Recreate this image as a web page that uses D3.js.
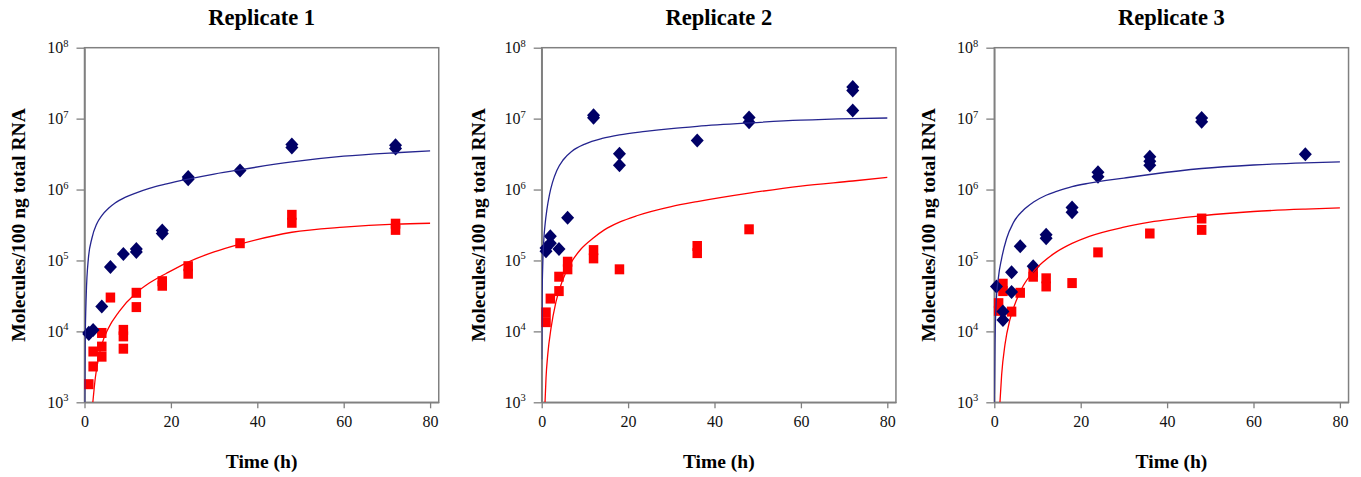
<!DOCTYPE html>
<html>
<head>
<meta charset="utf-8">
<script src="https://cdn.jsdelivr.net/npm/d3@7"></script>
<style>
  body { margin: 0; background: #fff; }
  svg { display: block; font-family: "Liberation Serif", "Times New Roman", serif; }
</style>
</head>
<body>
<svg></svg>
<script>
// ---- data (time in h, molecules / 100 ng total RNA) ----
var xTicks = [0, 20, 40, 60, 80];
var yExponents = [3, 4, 5, 6, 7, 8];

// Replicate 1
var rep1DiamondT = [1, 1, 2, 4, 6, 9, 12, 12, 18, 18, 24, 24, 36, 48, 48, 72, 72];
var rep1DiamondV = [9.2e3, 9.6e3, 1.05e4, 2.25e4, 8.1e4, 1.23e5, 1.32e5, 1.45e5, 2.4e5, 2.65e5, 1.4e6, 1.5e6, 1.86e6, 3.9e6, 4.3e6, 3.8e6, 4.2e6];
var rep1SquareT = [1, 2, 2, 4, 4, 4, 6, 9, 9, 9, 12, 12, 18, 18, 24, 24, 36, 48, 48, 72, 72];
var rep1SquareV = [1.8e3, 3.2e3, 5.2e3, 4.4e3, 6.1e3, 9.5e3, 3.0e4, 5.7e3, 8.5e3, 1.05e4, 2.2e4, 3.5e4, 4.4e4, 5.1e4, 6.5e4, 8.3e4, 1.75e5, 3.4e5, 4.4e5, 2.7e5, 3.3e5];
var rep1BlueFitT = [0.05, 0.15, 0.4, 0.9, 1.7, 2.85, 4, 5.5, 7, 9.5, 12, 15, 19, 24, 30, 36, 48, 60, 72, 80];
var rep1BlueFitV = [1e3, 6.3e3, 3.2e4, 1.07e5, 2.04e5, 3.3e5, 4.3e5, 5.4e5, 6.4e5, 7.8e5, 9.0e5, 1.04e6, 1.2e6, 1.4e6, 1.65e6, 1.9e6, 2.45e6, 2.95e6, 3.3e6, 3.5e6];
var rep1RedFitT = [1.93, 2.5, 3.25, 4, 5.5, 8, 12, 15, 19, 24, 30, 36, 48, 60, 72, 80];
var rep1RedFitV = [1e3, 2.2e3, 4.2e3, 6.5e3, 1.1e4, 1.9e4, 3.5e4, 4.8e4, 6.6e4, 9.5e4, 1.32e5, 1.7e5, 2.5e5, 2.95e5, 3.25e5, 3.35e5];

// Replicate 2
var rep2DiamondT = [1, 1, 2, 2, 4, 6, 12, 12, 18, 18, 36, 48, 48, 72, 72, 72];
var rep2DiamondV = [1.35e5, 1.5e5, 1.75e5, 2.2e5, 1.45e5, 4.0e5, 1.03e7, 1.12e7, 2.2e6, 3.2e6, 4.9e6, 8.9e6, 1.04e7, 1.3e7, 2.5e7, 2.8e7];
var rep2SquareT = [1, 1, 2, 4, 4, 6, 6, 12, 12, 18, 36, 36, 48];
var rep2SquareV = [1.35e4, 1.85e4, 2.9e4, 3.7e4, 5.9e4, 7.5e4, 9.6e4, 1.07e5, 1.4e5, 7.5e4, 1.27e5, 1.6e5, 2.75e5];
var rep2BlueFitT = [0, 0.1, 0.25, 0.5, 0.8, 1.2, 1.8, 2.5, 3.5, 5, 7, 10, 14, 18, 24, 30, 36, 48, 60, 72, 80];
var rep2BlueFitV = [4e3, 3.2e4, 8.9e4, 2.0e5, 3.3e5, 5.2e5, 8.5e5, 1.26e6, 1.86e6, 2.63e6, 3.47e6, 4.37e6, 5.25e6, 5.9e6, 6.6e6, 7.25e6, 7.8e6, 8.7e6, 9.5e6, 1.0e7, 1.02e7];
var rep2RedFitT = [0.77, 1, 1.4, 2.15, 3.3, 4.9, 6.8, 9.1, 11.8, 14.5, 18, 22, 30, 36, 48, 60, 72, 80];
var rep2RedFitV = [1e3, 2.2e3, 4.7e3, 1.1e4, 2.6e4, 5.4e4, 9.3e4, 1.45e5, 2.04e5, 2.7e5, 3.47e5, 4.27e5, 5.75e5, 6.76e5, 8.9e5, 1.12e6, 1.32e6, 1.48e6];

// Replicate 3
var rep3DiamondT = [0.5, 2, 2, 4, 4, 6, 9, 12, 12, 18, 18, 24, 24, 36, 36, 36, 48, 48, 72];
var rep3DiamondV = [4.3e4, 1.45e4, 1.9e4, 3.6e4, 6.8e4, 1.58e5, 8.3e4, 2.05e5, 2.3e5, 4.8e5, 5.6e5, 1.52e6, 1.75e6, 2.2e6, 2.5e6, 2.9e6, 9.0e6, 1.02e7, 3.15e6];
var rep3SquareT = [1, 1, 2, 2, 4, 6, 9, 9, 12, 12, 18, 24, 36, 48, 48];
var rep3SquareV = [1.95e4, 2.5e4, 3.7e4, 4.7e4, 1.9e4, 3.5e4, 5.9e4, 6.8e4, 4.3e4, 5.6e4, 4.8e4, 1.3e5, 2.4e5, 2.7e5, 3.9e5];
var rep3BlueFitT = [0, 0.15, 0.4, 0.93, 1.7, 2.85, 4.4, 6.7, 9, 12, 14.4, 18, 22, 30, 36, 48, 60, 72, 80];
var rep3BlueFitV = [1e3, 6.5e3, 2.3e4, 5.6e4, 1.07e5, 2.04e5, 3.4e5, 5.1e5, 6.6e5, 8.3e5, 9.4e5, 1.1e6, 1.23e6, 1.45e6, 1.63e6, 1.98e6, 2.22e6, 2.38e6, 2.46e6];
var rep3RedFitT = [1.31, 1.7, 2.47, 3.63, 5.17, 6.7, 9, 11.3, 14.4, 18, 22, 30, 36, 48, 60, 72, 80];
var rep3RedFitV = [1e3, 2.45e3, 6.5e3, 1.48e4, 2.8e4, 4.4e4, 6.9e4, 9.5e4, 1.32e5, 1.74e5, 2.19e5, 2.95e5, 3.47e5, 4.27e5, 4.9e5, 5.3e5, 5.5e5];

var width = 1361, height = 477;
var plotTop = 47.7, plotBottom = 402.3;
var pxPerHour = 4.32;
var diamondColor = "#000066", blueLine = "#25258f", red = "#ff0000", axisGrey = "#808080";

var panels = [
  {title: "Replicate 1", left: 84.5,  labelX: 25,
   dT: rep1DiamondT, dV: rep1DiamondV, sT: rep1SquareT, sV: rep1SquareV,
   bT: rep1BlueFitT, bV: rep1BlueFitV, rT: rep1RedFitT, rV: rep1RedFitV},
  {title: "Replicate 2", left: 541.7, labelX: 484.5,
   dT: rep2DiamondT, dV: rep2DiamondV, sT: rep2SquareT, sV: rep2SquareV,
   bT: rep2BlueFitT, bV: rep2BlueFitV, rT: rep2RedFitT, rV: rep2RedFitV},
  {title: "Replicate 3", left: 994.3, labelX: 934.5,
   dT: rep3DiamondT, dV: rep3DiamondV, sT: rep3SquareT, sV: rep3SquareV,
   bT: rep3BlueFitT, bV: rep3BlueFitV, rT: rep3RedFitT, rV: rep3RedFitV}
];

var svg = d3.select("svg").attr("width", width).attr("height", height);

var y = d3.scaleLog().domain([1e3, 1e8]).range([plotBottom, plotTop]);

panels.forEach(function(p, i) {
  var x = d3.scaleLinear().domain([0, 82]).range([p.left, p.left + 82 * pxPerHour]);
  var right = x(82);
  var cx = (p.left + right) / 2;
  var g = svg.append("g");

  // frame
  g.append("rect")
    .attr("x", p.left).attr("y", plotTop)
    .attr("width", right - p.left).attr("height", plotBottom - plotTop)
    .attr("fill", "none").attr("stroke", axisGrey).attr("stroke-width", 1.5);

  // y axis
  var yAxis = g.append("g")
    .attr("transform", "translate(" + p.left + ",0)")
    .call(d3.axisLeft(y).tickValues(yExponents.map(e => Math.pow(10, e))).tickSize(8).tickSizeOuter(0).tickFormat(""));
  yAxis.select(".domain").attr("stroke", axisGrey).attr("stroke-width", 1.5);
  yAxis.selectAll(".tick line").attr("stroke", axisGrey).attr("stroke-width", 1.3);

  var ylab = g.selectAll(".ylab").data(yExponents).enter().append("text")
    .attr("class", "ylab")
    .attr("x", p.left - 16)
    .attr("y", e => y(Math.pow(10, e)) + 5.5)
    .attr("text-anchor", "end")
    .attr("font-size", 16)
    .attr("fill", "#111");
  ylab.append("tspan").text("10");
  ylab.append("tspan").attr("font-size", 10.5).attr("dy", -6.5).text(e => e);

  // x axis
  var xAxis = g.append("g")
    .attr("transform", "translate(0," + plotBottom + ")")
    .call(d3.axisBottom(x).tickValues(xTicks).tickSize(6).tickPadding(7).tickSizeOuter(0));
  xAxis.select(".domain").attr("stroke", axisGrey).attr("stroke-width", 1.5);
  xAxis.selectAll(".tick line").attr("stroke", axisGrey).attr("stroke-width", 1.3);
  xAxis.selectAll(".tick text")
    .attr("font-family", "Liberation Serif, Times New Roman, serif")
    .attr("font-size", 16).attr("fill", "#111");

  // titles
  g.append("text").attr("x", cx).attr("y", 25)
    .attr("text-anchor", "middle").attr("font-weight", "bold").attr("font-size", 22.5)
    .text(p.title);
  g.append("text").attr("x", cx).attr("y", 468)
    .attr("text-anchor", "middle").attr("font-weight", "bold").attr("font-size", 19.5)
    .text("Time (h)");
  g.append("text")
    .attr("transform", "translate(" + p.labelX + "," + ((plotTop + plotBottom) / 2) + ") rotate(-90)")
    .attr("text-anchor", "middle").attr("font-weight", "bold").attr("font-size", 19.5)
    .text("Molecules/100 ng total RNA");

  // clip for fitted curves
  var clipId = "clip" + i;
  svg.append("clipPath").attr("id", clipId).append("rect")
    .attr("x", p.left).attr("y", plotTop).attr("width", right - p.left).attr("height", plotBottom - plotTop);
  var line = d3.line().x(d => x(d[0])).y(d => y(d[1])).curve(d3.curveMonotoneX);

  // markers
  var diamonds = p.dT.map((t, k) => [t, p.dV[k]]);
  var squares = p.sT.map((t, k) => [t, p.sV[k]]);

  g.selectAll(".sq").data(squares).enter().append("rect")
    .attr("class", "sq")
    .attr("x", d => x(d[0]) - 4.75).attr("y", d => y(d[1]) - 5)
    .attr("width", 9.5).attr("height", 10)
    .attr("fill", red);

  g.selectAll(".dm").data(diamonds).enter().append("path")
    .attr("class", "dm")
    .attr("d", "M0,-7L6.5,0L0,7L-6.5,0Z")
    .attr("transform", d => "translate(" + x(d[0]) + "," + y(d[1]) + ")")
    .attr("fill", diamondColor);

  // fitted curves
  g.append("path")
    .datum(p.rT.map((t, k) => [t, p.rV[k]]))
    .attr("clip-path", "url(#" + clipId + ")")
    .attr("d", line).attr("fill", "none").attr("stroke", red).attr("stroke-width", 1.3);
  g.append("path")
    .datum(p.bT.map((t, k) => [t, p.bV[k]]))
    .attr("clip-path", "url(#" + clipId + ")")
    .attr("d", line).attr("fill", "none").attr("stroke", blueLine).attr("stroke-width", 1.3);
});
</script>
</body>
</html>
